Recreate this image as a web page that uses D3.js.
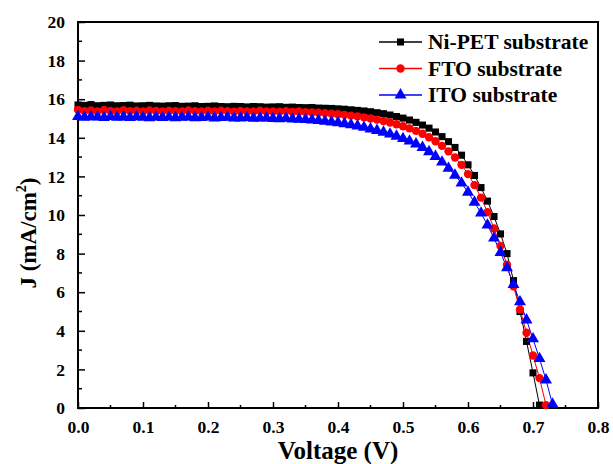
<!DOCTYPE html>
<html>
<head>
<meta charset="utf-8">
<script src="https://cdn.jsdelivr.net/npm/d3@7"></script>
<style>
  body { margin: 0; background: #fff; }
  text { font-family: "Liberation Serif", "Times New Roman", serif; font-weight: bold; }
</style>
</head>
<body>
<div id="chart"></div>
<script>
// data
var voltage = [0.00,0.01,0.02,0.03,0.04,0.05,0.06,0.07,0.08,0.09,
  0.10,0.11,0.12,0.13,0.14,0.15,0.16,0.17,0.18,0.19,
  0.20,0.21,0.22,0.23,0.24,0.25,0.26,0.27,0.28,0.29,
  0.30,0.31,0.32,0.33,0.34,0.35,0.36,0.37,0.38,0.39,
  0.40,0.41,0.42,0.43,0.44,0.45,0.46,0.47,0.48,0.49,
  0.50,0.51,0.52,0.53,0.54,0.55,0.56,0.57,0.58,0.59,
  0.60,0.61,0.62,0.63,0.64,0.65,0.66,0.67,0.68,0.69,
  0.70,0.71,0.72,0.73];

var niPET = [15.70,15.68,15.72,15.66,15.68,15.70,15.66,15.67,15.69,15.65,
  15.66,15.68,15.65,15.64,15.66,15.67,15.63,15.64,15.66,15.62,
  15.63,15.65,15.62,15.61,15.63,15.62,15.60,15.62,15.61,15.59,
  15.60,15.61,15.58,15.59,15.57,15.56,15.57,15.54,15.53,15.52,
  15.50,15.48,15.45,15.42,15.39,15.35,15.30,15.25,15.18,15.10,
  15.02,14.92,14.80,14.66,14.50,14.30,14.06,13.80,13.50,13.10,
  12.60,12.05,11.42,10.72,9.92,9.02,8.00,6.60,5.00,3.45,
  1.82,0.15];

var fto = [15.45,15.38,15.42,15.36,15.44,15.39,15.37,15.43,15.38,15.40,
  15.36,15.42,15.39,15.37,15.41,15.38,15.36,15.42,15.38,15.37,
  15.40,15.36,15.41,15.38,15.35,15.39,15.37,15.36,15.40,15.36,
  15.37,15.35,15.38,15.34,15.36,15.33,15.32,15.30,15.28,15.25,
  15.22,15.19,15.15,15.11,15.06,15.00,14.94,14.87,14.79,14.70,
  14.60,14.49,14.36,14.21,14.03,13.82,13.58,13.30,12.98,12.60,
  12.12,11.55,10.90,10.15,9.30,8.40,7.42,6.30,5.10,3.90,
  2.72,1.55,0.15];

var ito = [15.10,15.06,15.09,15.07,15.05,15.10,15.06,15.08,15.05,15.09,
  15.06,15.04,15.08,15.05,15.07,15.04,15.06,15.08,15.04,15.05,
  15.07,15.03,15.05,15.06,15.02,15.03,15.05,15.01,15.02,15.03,
  15.00,14.99,15.01,14.97,14.96,14.94,14.92,14.89,14.86,14.82,
  14.78,14.73,14.67,14.61,14.54,14.46,14.38,14.29,14.19,14.08,
  13.96,13.83,13.68,13.50,13.28,13.03,12.74,12.42,12.06,11.65,
  11.18,10.66,10.10,9.48,8.80,8.06,7.26,6.40,5.50,4.56,
  3.58,2.56,1.45,0.20];

var seriesNames = ["Ni-PET substrate", "FTO substrate", "ITO substrate"];
var seriesColors = ["#000000", "#ff0000", "#0000ff"];
var xTicks = [0.0, 0.1, 0.2, 0.3, 0.4, 0.5, 0.6, 0.7, 0.8];
var yTicks = [0, 2, 4, 6, 8, 10, 12, 14, 16, 18, 20];

var svgWidth = 613;
var svgHeight = 464;
var margin = { top: 22, right: 15, bottom: 56, left: 78 };
var width = svgWidth - margin.left - margin.right;
var height = svgHeight - margin.top - margin.bottom;

var svg = d3.select("#chart")
  .append("svg")
  .attr("width", svgWidth)
  .attr("height", svgHeight);

var chartGroup = svg.append("g")
  .attr("transform", `translate(${margin.left}, ${margin.top})`);

var xScale = d3.scaleLinear().domain([0, 0.8]).range([0, width]);
var yScale = d3.scaleLinear().domain([0, 20]).range([height, 0]);

// minor ticks
var xMinor = xTicks.slice(0, -1).map(d => d + 0.05);
var yMinor = yTicks.slice(0, -1).map(d => d + 1);

chartGroup.selectAll(".xminor").data(xMinor).enter().append("line")
  .attr("x1", d => xScale(d)).attr("x2", d => xScale(d))
  .attr("y1", height).attr("y2", height - 3)
  .attr("stroke", "#000").attr("stroke-width", 1.5);
chartGroup.selectAll(".yminor").data(yMinor).enter().append("line")
  .attr("x1", 0).attr("x2", 4)
  .attr("y1", d => yScale(d)).attr("y2", d => yScale(d))
  .attr("stroke", "#000").attr("stroke-width", 1.5);

// axes, ticks pointing in
var bottomAxis = d3.axisBottom(xScale).tickValues(xTicks)
  .tickFormat(d3.format(".1f")).tickSizeInner(-6).tickSizeOuter(0).tickPadding(13);
var leftAxis = d3.axisLeft(yScale).tickValues(yTicks)
  .tickFormat(d3.format("d")).tickSizeInner(-7).tickSizeOuter(0).tickPadding(13);

var xg = chartGroup.append("g")
  .attr("transform", `translate(0, ${height})`)
  .call(bottomAxis);
var yg = chartGroup.append("g").call(leftAxis);

[xg, yg].forEach(function(g) {
  g.select(".domain").remove();
  g.selectAll(".tick line").attr("stroke-width", 1.5);
  g.selectAll(".tick text")
    .style("font-family", '"Liberation Serif", "Times New Roman", serif')
    .style("font-weight", "bold")
    .style("font-size", "17.5px")
    .attr("fill", "#000");
});

// frame
chartGroup.append("rect")
  .attr("x", 0).attr("y", 0)
  .attr("width", width).attr("height", height)
  .attr("fill", "none").attr("stroke", "#000").attr("stroke-width", 2);

// curves
var allSeries = [niPET, fto, ito];
var symbols = [d3.symbolSquare, d3.symbolCircle, d3.symbolTriangle];
var symSizes = [50, 55, 62];

var line = d3.line()
  .x(d => xScale(d[0]))
  .y(d => yScale(d[1]));

allSeries.forEach(function(vals, i) {
  var pts = vals.map((v, k) => [voltage[k], v]);
  chartGroup.append("path")
    .datum(pts)
    .attr("d", line)
    .attr("fill", "none")
    .attr("stroke", seriesColors[i])
    .attr("stroke-width", 1);
});

allSeries.forEach(function(vals, i) {
  var pts = vals.map((v, k) => [voltage[k], v]);
  chartGroup.selectAll(".m" + i).data(pts).enter().append("path")
    .attr("transform", d => `translate(${xScale(d[0])}, ${yScale(d[1])})`)
    .attr("d", d3.symbol().type(symbols[i]).size(symSizes[i]))
    .attr("fill", seriesColors[i]);
});

// legend
var legend = svg.append("g").attr("transform", "translate(379, 42)");
seriesNames.forEach(function(name, i) {
  var row = legend.append("g").attr("transform", `translate(0, ${i * 26.5})`);
  row.append("line")
    .attr("x1", 0).attr("x2", 43).attr("y1", 0).attr("y2", 0)
    .attr("stroke", seriesColors[i]).attr("stroke-width", 1.5);
  row.append("path")
    .attr("transform", "translate(21.5, 0)")
    .attr("d", d3.symbol().type(symbols[i]).size(symSizes[i]))
    .attr("fill", seriesColors[i]);
  row.append("text")
    .attr("x", 49).attr("y", 7)
    .style("font-size", "21.5px")
    .attr("fill", "#000")
    .text(name);
});

// axis titles
svg.append("text")
  .attr("x", margin.left + width / 2)
  .attr("y", 459)
  .attr("text-anchor", "middle")
  .style("font-size", "25px")
  .text("Voltage (V)");

var yTitle = svg.append("text")
  .attr("transform", "translate(36, 233) rotate(-90)")
  .attr("text-anchor", "middle")
  .style("font-size", "23px");
yTitle.append("tspan").text("J (mA/cm");
yTitle.append("tspan").attr("dy", -10).style("font-size", "14px").text("2");
yTitle.append("tspan").attr("dy", 10).text(")");
</script>
</body>
</html>
